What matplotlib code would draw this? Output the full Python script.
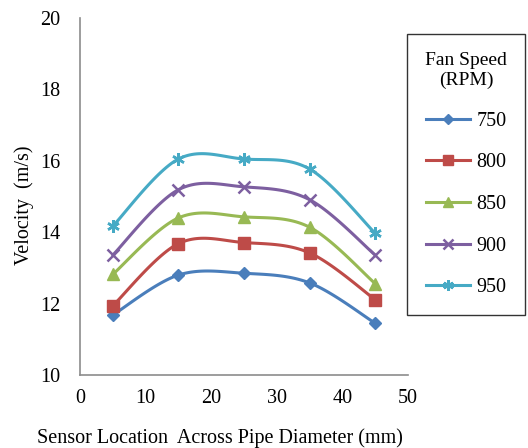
import numpy as np
import matplotlib
matplotlib.use("Agg")
import matplotlib.pyplot as plt
from matplotlib.lines import Line2D

plt.rcParams['font.family'] = ['Liberation Serif', 'DejaVu Serif']

positions = [5, 15, 25, 35, 45]
speeds = ["750", "800", "850", "900", "950"]
v750 = [11.68, 12.80, 12.85, 12.58, 11.45]
v800 = [11.94, 13.68, 13.71, 13.42, 12.11]
v850 = [12.82, 14.40, 14.43, 14.14, 12.56]
v900 = [13.36, 15.19, 15.27, 14.91, 13.36]
v950 = [14.17, 16.05, 16.05, 15.77, 13.97]
series = [v750, v800, v850, v900, v950]

colors = ["#4A7EBB", "#BE4B48", "#98B954", "#7D5FA0", "#46AAC5"]
markers = ["D", "s", "^", "x", (6, 2, 0)]
msizes = [6, 8, 8, 8, 9]


def smooth(x, y, n=30):
    """Cubic Bezier smoothing through the points (Catmull-Rom style)."""
    x = np.asarray(x, float)
    y = np.asarray(y, float)
    px = np.concatenate([[x[0]], x, [x[-1]]])
    py = np.concatenate([[y[0]], y, [y[-1]]])
    xs, ys = [], []
    t = np.linspace(0, 1, n)
    for i in range(1, len(px) - 2):
        p0 = np.array([px[i], py[i]])
        p3 = np.array([px[i + 1], py[i + 1]])
        p1 = p0 + (np.array([px[i + 1], py[i + 1]]) - np.array([px[i - 1], py[i - 1]])) / 6
        p2 = p3 - (np.array([px[i + 2], py[i + 2]]) - np.array([px[i], py[i]])) / 6
        b = ((1 - t) ** 3)[:, None] * p0 + (3 * (1 - t) ** 2 * t)[:, None] * p1 \
            + (3 * (1 - t) * t ** 2)[:, None] * p2 + (t ** 3)[:, None] * p3
        xs.extend(b[:, 0])
        ys.extend(b[:, 1])
    return np.array(xs), np.array(ys)


fig = plt.figure(figsize=(5.28, 4.48), dpi=100)
ax = fig.add_axes([80 / 528, 1 - 375 / 448, 328 / 528, 357 / 448])

handles = []
for vals, c, m, ms, lab in zip(series, colors, markers, msizes, speeds):
    sx, sy = smooth(positions, vals)
    ax.plot(sx, sy, color=c, lw=2.2, solid_capstyle='round')
    mew = 1.8 if m in ("x", (6, 2, 0)) else 1
    ax.plot(positions, vals, linestyle='none', marker=m, color=c, ms=ms, mew=mew)
    handles.append(Line2D([0], [0], color=c, lw=2.2, marker=m, ms=ms * 0.85, mew=mew))

ax.set_xlim(0, 50)
ax.set_ylim(10, 20)
ax.set_xticks(range(0, 51, 10))
ax.set_yticks(range(10, 21, 2))
ax.tick_params(length=0, labelsize=14.5, pad=10)
ax.tick_params(axis='y', pad=14)
for s in ("top", "right"):
    ax.spines[s].set_visible(False)
for s in ("left", "bottom"):
    ax.spines[s].set_color("#8C8C8C")
    ax.spines[s].set_linewidth(1.2)

ax.set_xlabel("Sensor Location  Across Pipe Diameter (mm)", fontsize=14.5)
ax.set_ylabel("Velocity  (m/s)", fontsize=14.5)
ax.xaxis.set_label_coords(0.427, -0.15)
ax.yaxis.set_label_coords(-0.14, 0.476)

leg = fig.legend(handles, speeds, title="Fan Speed\n(RPM)", loc="upper left",
                 bbox_to_anchor=(407 / 528, 1 - 34 / 448), borderaxespad=0,
                 fontsize=14.5, title_fontsize=14, frameon=True,
                 fancybox=False, edgecolor="black", handlelength=2.2,
                 labelspacing=1.12, borderpad=0.9, handletextpad=0.3)
leg.get_frame().set_linewidth(1.0)
leg.get_title().set_multialignment('center')

fig.savefig("out.png", dpi=100)
